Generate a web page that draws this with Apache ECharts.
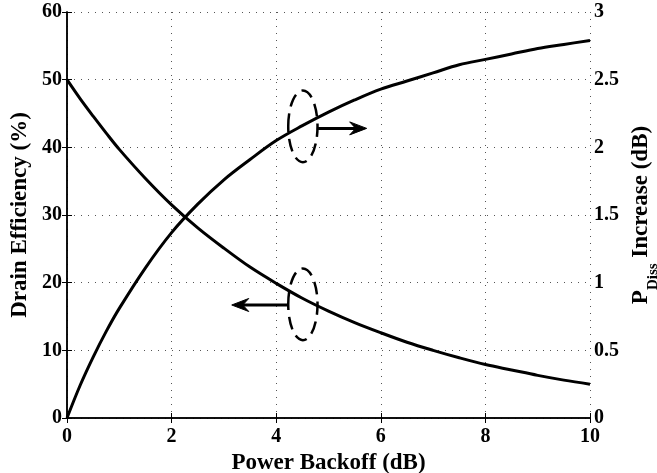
<!DOCTYPE html>
<html>
<head>
<meta charset="utf-8">
<script src="https://cdn.jsdelivr.net/npm/echarts@6/dist/echarts.min.js"></script>
<style>
  html, body { margin: 0; padding: 0; background: #ffffff; }
  #chart { width: 657px; height: 473px; }
</style>
</head>
<body>
<div id="chart"></div>
<script>
// Output power backoff (dB)
const backoff = [0, 0.25, 0.5, 0.75, 1, 1.5, 2, 2.5, 3, 3.5, 4, 4.5, 5, 5.5, 6, 6.5, 7, 7.5, 8, 8.5, 9, 9.5, 10];
// Drain efficiency (%), left axis
const drainEfficiency = [50, 47.2, 44.6, 42.1, 39.7, 35.4, 31.5, 28.1, 25.1, 22.3, 19.9, 17.7, 15.8, 14.1, 12.6, 11.2, 10.0, 8.9, 7.9, 7.1, 6.3, 5.6, 5.0];
// Increase of dissipated power (dB), right axis
const dissIncrease = [0, 0.24, 0.45, 0.64, 0.81, 1.11, 1.37, 1.58, 1.76, 1.91, 2.05, 2.16, 2.26, 2.35, 2.43, 2.49, 2.55, 2.61, 2.65, 2.69, 2.73, 2.76, 2.79];

// Tick values
const xTicks = [0, 2, 4, 6, 8, 10];
const effTicks = [0, 10, 20, 30, 40, 50, 60];
const dissTicks = [0, 0.5, 1, 1.5, 2, 2.5, 3];

// Callouts: dashed ellipse around a curve plus an arrow pointing to its axis
// (coordinates in backoff / efficiency units)
const callouts = [
  { center: [4.51, 43.1], rx: 0.28, ry: 5.3, from: [4.80, 42.8], to: [5.73, 42.8] },
  { center: [4.51, 16.8], rx: 0.28, ry: 5.3, from: [4.23, 16.7], to: [3.15, 16.7] }
];

const FONT = 'Liberation Serif';
const tickFont = { fontFamily: FONT, fontWeight: 'bold', fontSize: 20, color: '#000' };
const nameFont = { fontFamily: FONT, fontWeight: 'bold', fontSize: 23, color: '#000' };
const dotted = { type: [1, 6], color: '#555', width: 1 };
const axisLine = { show: true, lineStyle: { color: '#000', width: 1.5 } };
const innerTick = { show: true, inside: true, length: 5, lineStyle: { color: '#000', width: 1 } };

const span = t => ({ min: t[0], max: t[t.length - 1], interval: t[1] - t[0] });

const chart = echarts.init(document.getElementById('chart'), null, { renderer: 'canvas' });

chart.setOption({
  animation: false,
  backgroundColor: '#ffffff',
  grid: { left: 67, right: 67, top: 12, bottom: 55, containLabel: false, outerBoundsMode: 'none' },
  xAxis: [
    Object.assign({
      type: 'value', position: 'bottom',
      axisLine: axisLine, axisTick: innerTick,
      axisLabel: Object.assign({ margin: 9 }, tickFont),
      splitLine: { show: true, lineStyle: dotted },
      name: 'Power Backoff (dB)', nameLocation: 'middle', nameGap: 29,
      nameTextStyle: nameFont
    }, span(xTicks)),
    Object.assign({
      type: 'value', position: 'top',
      axisLine: axisLine, axisTick: innerTick,
      axisLabel: { show: false }, splitLine: { show: false }
    }, span(xTicks))
  ],
  yAxis: [
    Object.assign({
      type: 'value', position: 'left',
      axisLine: axisLine, axisTick: innerTick,
      axisLabel: Object.assign({ margin: 5 }, tickFont),
      splitLine: { show: true, lineStyle: dotted },
      name: 'Drain Efficiency (%)', nameLocation: 'middle', nameGap: 31,
      nameTextStyle: nameFont
    }, span(effTicks)),
    Object.assign({
      type: 'value', position: 'right',
      axisLine: axisLine, axisTick: innerTick,
      axisLabel: Object.assign({ margin: 4 }, tickFont),
      splitLine: { show: false },
      name: '{p|P}{s|Diss}{p| Increase (dB)}', nameLocation: 'middle', nameGap: 29,
      nameTextStyle: Object.assign({}, nameFont, {
        rich: {
          p: { fontFamily: FONT, fontWeight: 'bold', fontSize: 23, color: '#000', lineHeight: 30, verticalAlign: 'top' },
          s: { fontFamily: FONT, fontWeight: 'bold', fontSize: 15, color: '#000', lineHeight: 16, verticalAlign: 'top', padding: [16, 0, 0, 0] }
        }
      })
    }, span(dissTicks))
  ],
  series: [
    {
      name: 'Drain Efficiency', type: 'line', xAxisIndex: 0, yAxisIndex: 0,
      data: backoff.map((x, i) => [x, drainEfficiency[i]]),
      showSymbol: false, smooth: 0.35,
      lineStyle: { color: '#000', width: 3 }, z: 3
    },
    {
      name: 'PDiss Increase', type: 'line', xAxisIndex: 0, yAxisIndex: 1,
      data: backoff.map((x, i) => [x, dissIncrease[i]]),
      showSymbol: false, smooth: 0.35,
      lineStyle: { color: '#000', width: 3 }, z: 3
    }
  ]
});

// Draw the callout ellipses and arrows in pixel space
const toPx = p => chart.convertToPixel({ xAxisIndex: 0, yAxisIndex: 0 }, p);
const graphics = [];
callouts.forEach(c => {
  const ctr = toPx(c.center);
  const ex = toPx([c.center[0] + c.rx, c.center[1]]);
  const ey = toPx([c.center[0], c.center[1] + c.ry]);
  graphics.push({
    type: 'ellipse', z: 10,
    shape: { cx: ctr[0], cy: ctr[1], rx: Math.abs(ex[0] - ctr[0]), ry: Math.abs(ctr[1] - ey[1]) },
    style: { fill: 'none', stroke: '#000', lineWidth: 2.5, lineDash: [13, 7] }
  });
  const a = toPx(c.from), b = toPx(c.to);
  const dir = Math.sign(b[0] - a[0]);
  graphics.push({
    type: 'line', z: 10,
    shape: { x1: a[0], y1: a[1], x2: b[0] - dir * 8, y2: b[1] },
    style: { stroke: '#000', lineWidth: 3 }
  });
  graphics.push({
    type: 'polygon', z: 10,
    shape: { points: [[b[0], b[1]], [b[0] - dir * 17, b[1] - 6.5], [b[0] - dir * 11, b[1]], [b[0] - dir * 17, b[1] + 6.5]] },
    style: { fill: '#000', stroke: '#000', lineWidth: 1 }
  });
});
chart.setOption({ graphic: graphics });
</script>
</body>
</html>
